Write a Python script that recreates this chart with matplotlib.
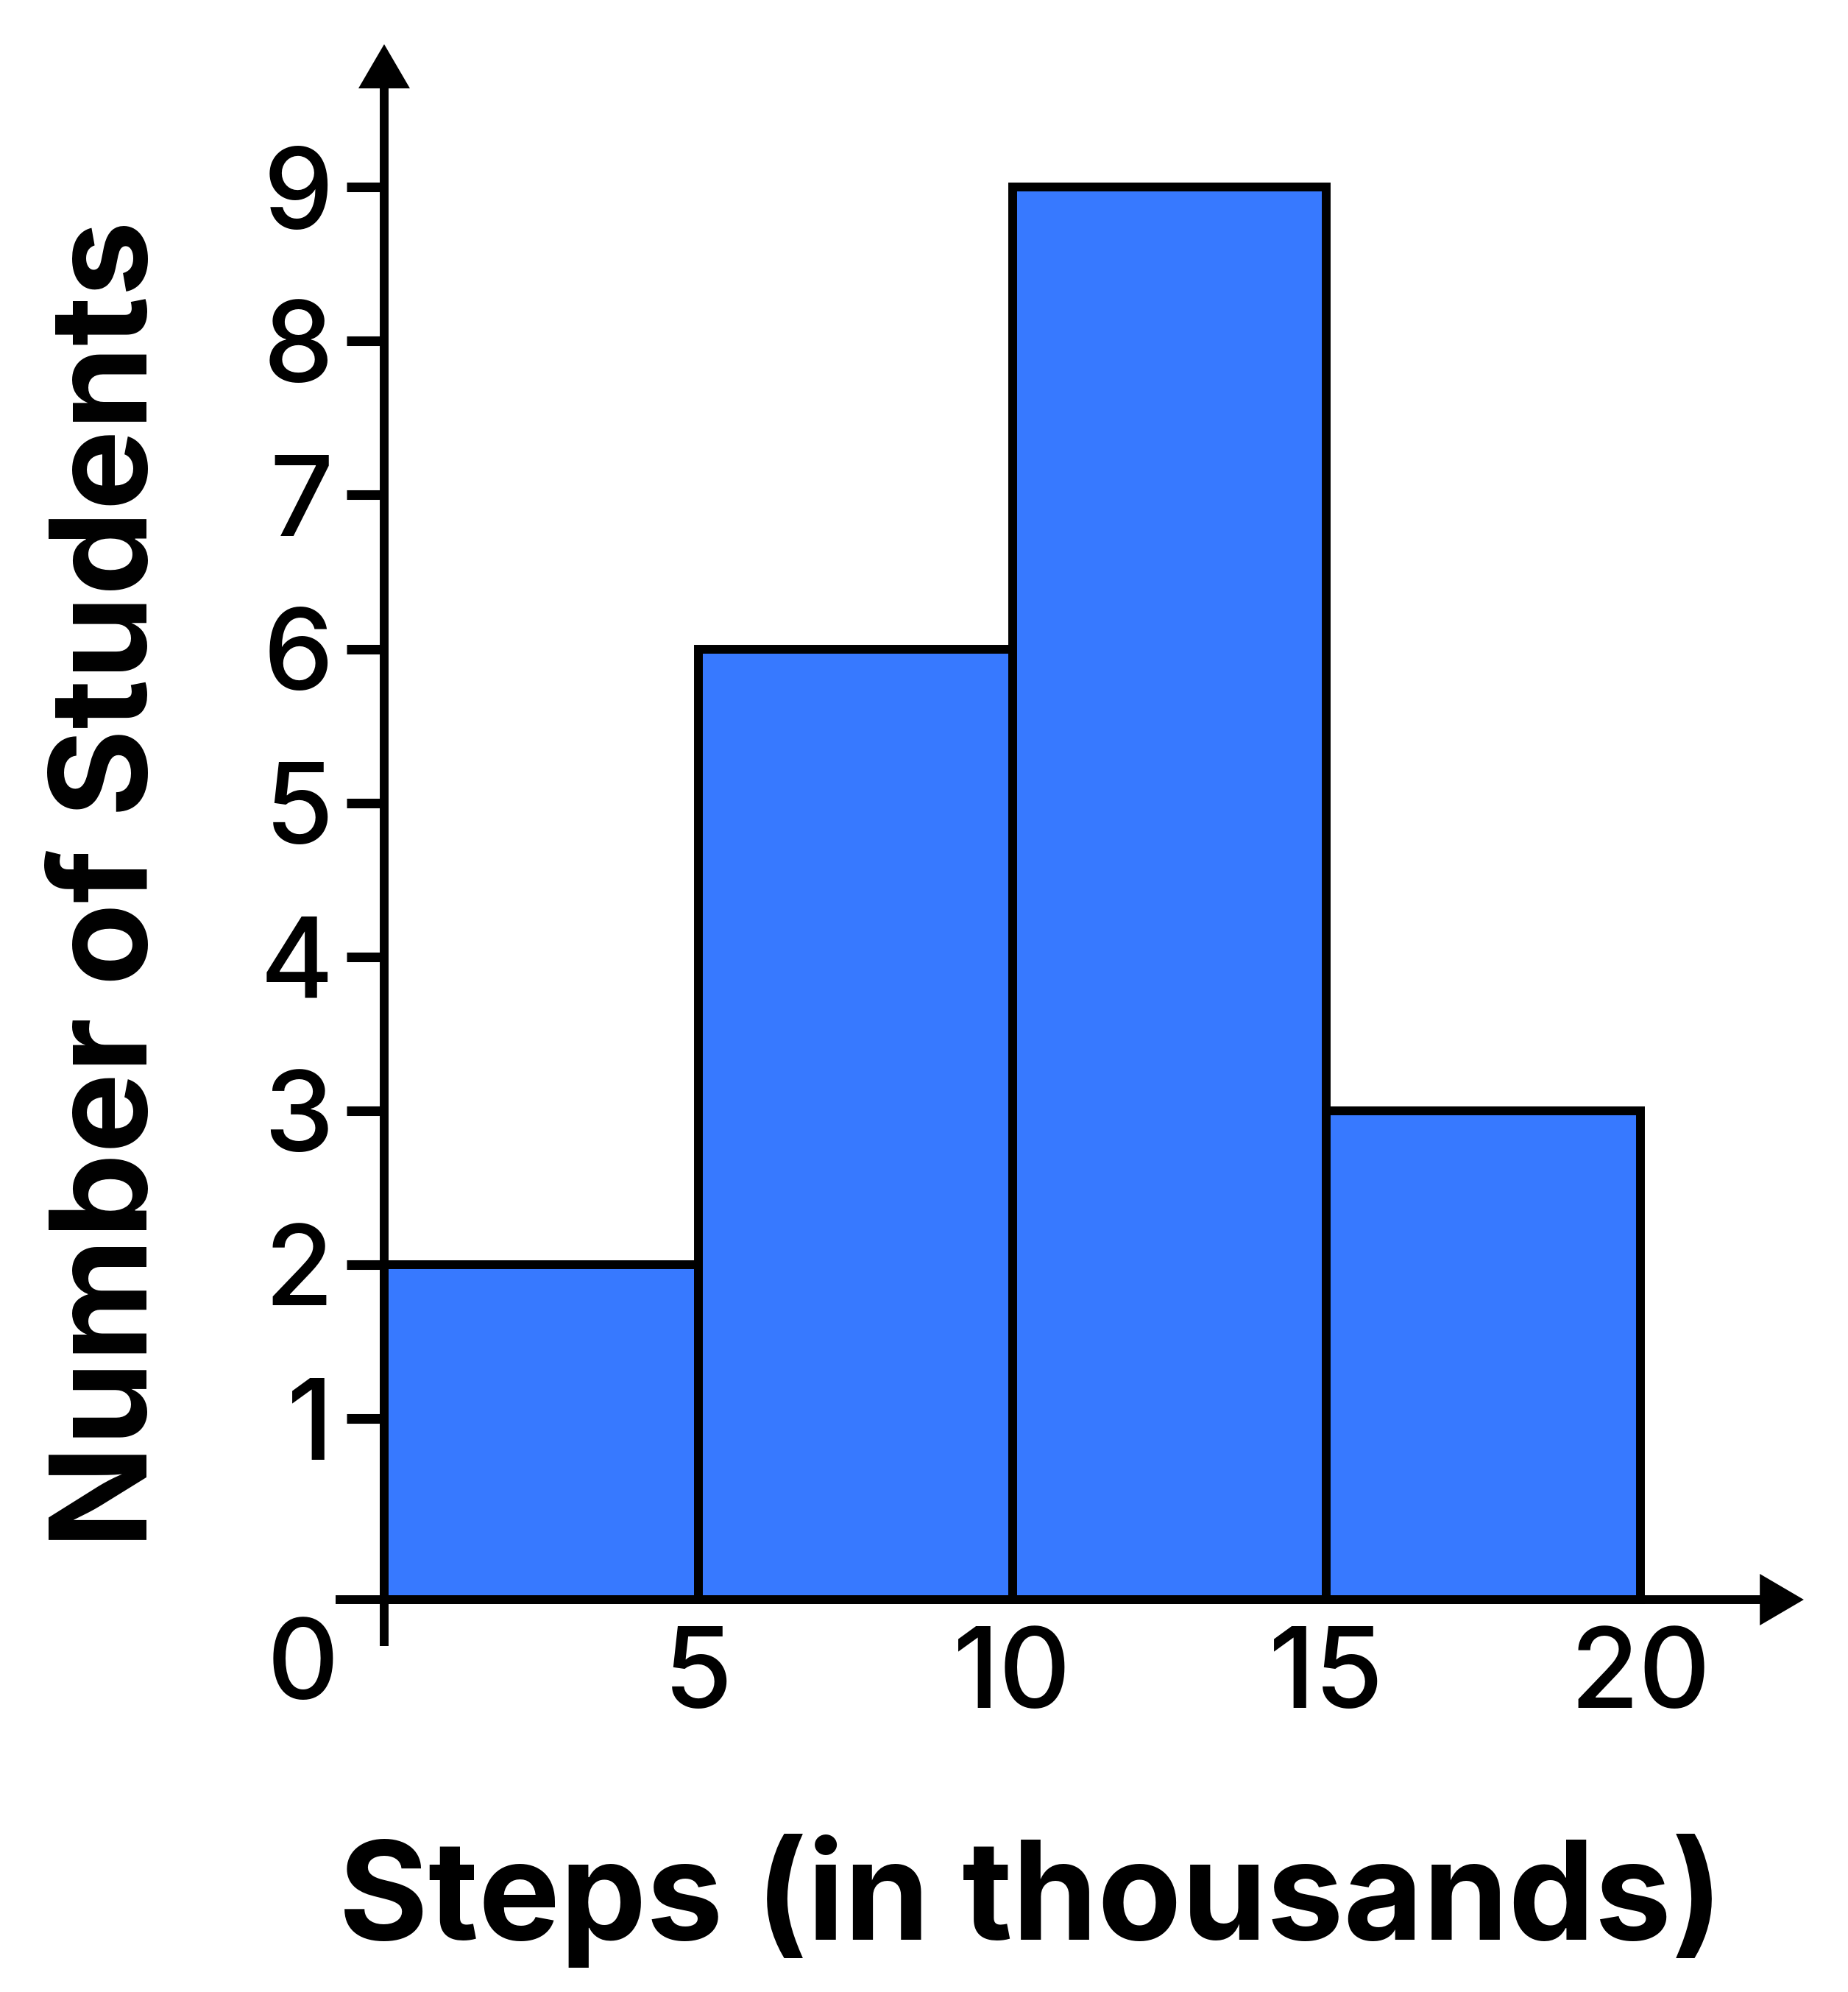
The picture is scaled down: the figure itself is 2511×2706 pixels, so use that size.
import matplotlib
matplotlib.use("Agg")
import matplotlib.pyplot as plt
from matplotlib.patches import Polygon

plt.rcParams["font.family"] = ["Inter", "DejaVu Sans"]

# histogram data
bin_edges = [0, 5, 10, 15, 20]
counts = [2, 6, 9, 3]
x_ticks = [5, 10, 15, 20]
y_ticks = [1, 2, 3, 4, 5, 6, 7, 8, 9]
x_title = "Steps (in thousands)"
y_title = "Number of Students"

BAR_COLOR = "#3779FF"
W, H, DPI = 2511, 2706, 100

# pixel layout of the reference
PX_X0, PX_PER_X = 522, 85.35        # x=0 column, px per x unit
PX_Y0, PX_PER_Y = 2136.2, 209.1     # y=0 row, px per y unit
AXIS_Y = -0.176                     # x axis sits a little below zero
LW = 8.6                            # line width in points

fig = plt.figure(figsize=(W / DPI, H / DPI), dpi=DPI)
ax = fig.add_axes([0, 0, 1, 1])
ax.set_xlim(-PX_X0 / PX_PER_X, (W - PX_X0) / PX_PER_X)
ax.set_ylim((PX_Y0 - H) / PX_PER_Y, PX_Y0 / PX_PER_Y)

# bars
lefts = bin_edges[:-1]
widths = [b - a for a, b in zip(bin_edges[:-1], bin_edges[1:])]
bars = ax.bar(lefts, [c - AXIS_Y for c in counts], width=widths, bottom=AXIS_Y,
              align="edge", color=BAR_COLOR, edgecolor="black", linewidth=LW, zorder=2)
for b in bars:
    b.set_joinstyle("miter")

# spines as the two axes
for s in ["top", "right"]:
    ax.spines[s].set_visible(False)
ax.spines["left"].set_position(("data", 0))
ax.spines["bottom"].set_position(("data", AXIS_Y))
ax.spines["left"].set_bounds(-0.477, 9.65)
ax.spines["bottom"].set_bounds(-0.773, 21.92)
for s in ["left", "bottom"]:
    ax.spines[s].set_linewidth(LW)
    ax.spines[s].set_capstyle("butt")
    ax.spines[s].set_zorder(3)

# arrow heads
hx = 35 / PX_PER_X
ax.add_patch(Polygon([[-hx, 9.642], [hx, 9.642], [0, 9.929]], closed=True,
                     color="black", lw=0, zorder=4))
vy = 35 / PX_PER_Y
ax.add_patch(Polygon([[21.90, AXIS_Y - vy], [21.90, AXIS_Y + vy], [22.60, AXIS_Y]], closed=True,
                     color="black", lw=0, zorder=4))

# ticks
ax.set_yticks(y_ticks)
ax.set_yticklabels([str(v) for v in y_ticks], fontweight="medium")
ax.set_xticks(x_ticks)
ax.set_xticklabels([str(v) for v in x_ticks], fontweight="medium")
ax.tick_params(axis="y", length=36.5, width=9.4, pad=13, labelsize=109, color="black")
ax.tick_params(axis="x", length=0, pad=26, labelsize=109)
ax.text(-1.30, -0.63, "0", fontsize=109, fontweight="medium", ha="center", va="center")

# axis titles
ax.text(10.29, -2.385, x_title, fontsize=134, fontweight="bold",
        ha="center", va="baseline", rotation_mode="anchor")
ax.text(-3.773, 4.473, y_title, fontsize=132, fontweight="bold", rotation=90,
        ha="center", va="baseline", rotation_mode="anchor")

fig.savefig("out.png", dpi=DPI, facecolor="white")
